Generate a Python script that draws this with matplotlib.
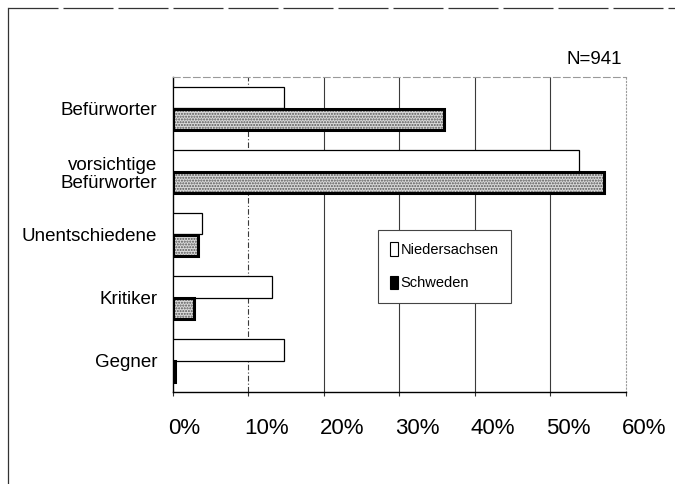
import matplotlib
matplotlib.use('Agg')
import matplotlib.pyplot as plt
from matplotlib.patches import Patch
from matplotlib.lines import Line2D
from matplotlib.transforms import ScaledTranslation
import numpy as np

# ---- data ----
categories = ['Befürworter', 'vorsichtige\nBefürworter', 'Unentschiedene', 'Kritiker', 'Gegner']
series_names = ['Niedersachsen', 'Schweden']
niedersachsen = [14.7, 53.8, 3.9, 13.2, 14.8]
schweden = [35.9, 57.1, 3.4, 2.9, 0.3]
xtick_values = [0, 10, 20, 30, 40, 50, 60]
xtick_labels = ['0%', '10%', '20%', '30%', '40%', '50%', '60%']
sample_note = 'N=941'

REG = ['Liberation Sans', 'DejaVu Sans']

W, H = 675, 484
fig = plt.figure(figsize=(W / 100, H / 100), dpi=100)
fig.patch.set_facecolor('white')

ax = fig.add_axes([172.5 / W, 1 - 392 / H, (626 - 172.5) / W, (392 - 77) / H])

y = np.arange(len(categories))
h = 0.345
ax.barh(y - h / 2, niedersachsen, height=h, color='white', edgecolor='black',
        linewidth=0.9, zorder=3)
ax.barh(y + h / 2, schweden, height=h, color='#dadada', edgecolor='#555555',
        linewidth=0, hatch='......', zorder=3)
ax.barh(y + h / 2, schweden, height=h, fill=False, edgecolor='black',
        linewidth=2.2, zorder=4)

ax.set_xlim(xtick_values[0], xtick_values[-1])
ax.set_ylim(len(categories) - 0.5, -0.5)

ax.set_xticks(xtick_values)
ax.set_xticklabels(xtick_labels, family=REG, fontsize=16)
ax.set_yticks(y)
ax.set_yticklabels(categories, family=REG, fontsize=13.5, linespacing=1.1)
ax.tick_params(axis='y', length=0, pad=11)
ax.tick_params(axis='x', length=3, width=0.8, pad=16, direction='out', color='#333')

off = ScaledTranslation(-4 / 100, 0, fig.dpi_scale_trans)
for lbl in ax.get_xticklabels():
    lbl.set_ha('left')
    lbl.set_transform(lbl.get_transform() + off)

ax.xaxis.grid(True, color='#3a3a3a', linewidth=0.8, zorder=1)
ax.set_axisbelow(True)
gl = ax.get_xgridlines()
gl[0].set_visible(False)
gl[-1].set_visible(False)
gl[1].set_linestyle((0, (5, 2, 1, 2)))

for s in ['left', 'bottom']:
    ax.spines[s].set_color('black')
    ax.spines[s].set_linewidth(1.0)
ax.spines['top'].set_color('#9a9a9a')
ax.spines['top'].set_linestyle((0, (6, 3)))
ax.spines['top'].set_linewidth(0.8)
ax.spines['right'].set_color('#9a9a9a')
ax.spines['right'].set_linestyle((0, (1, 2)))
ax.spines['right'].set_linewidth(0.8)

handles = [Patch(facecolor='white', edgecolor='black', linewidth=0.8),
           Patch(facecolor='black', edgecolor='black', linewidth=0.8)]
leg = ax.legend(handles, series_names, loc='upper left', bbox_to_anchor=(0.453, 0.514),
                frameon=True, fancybox=False, edgecolor='#444444', framealpha=1,
                prop={'family': REG, 'size': 10.5}, handlelength=0.55,
                handleheight=1.0, handletextpad=0.15, labelspacing=1.3,
                borderpad=0.85, borderaxespad=0)
leg.get_frame().set_linewidth(0.8)
leg.set_zorder(6)

fig.text(622 / W, 1 - 60 / H, sample_note, ha='right', va='center',
         fontsize=13.5, family=REG)

# outer frame (left and top edges of the scanned page box)
fig.add_artist(Line2D([8 / W, 8 / W], [0, 1 - 8 / H], color='#333333', linewidth=0.9))
fig.add_artist(Line2D([8 / W, 1], [1 - 8 / H, 1 - 8 / H], color='#333333',
                      linewidth=0.9, linestyle=(0, (40, 4))))

fig.savefig('out.png', dpi=100, facecolor='white')
